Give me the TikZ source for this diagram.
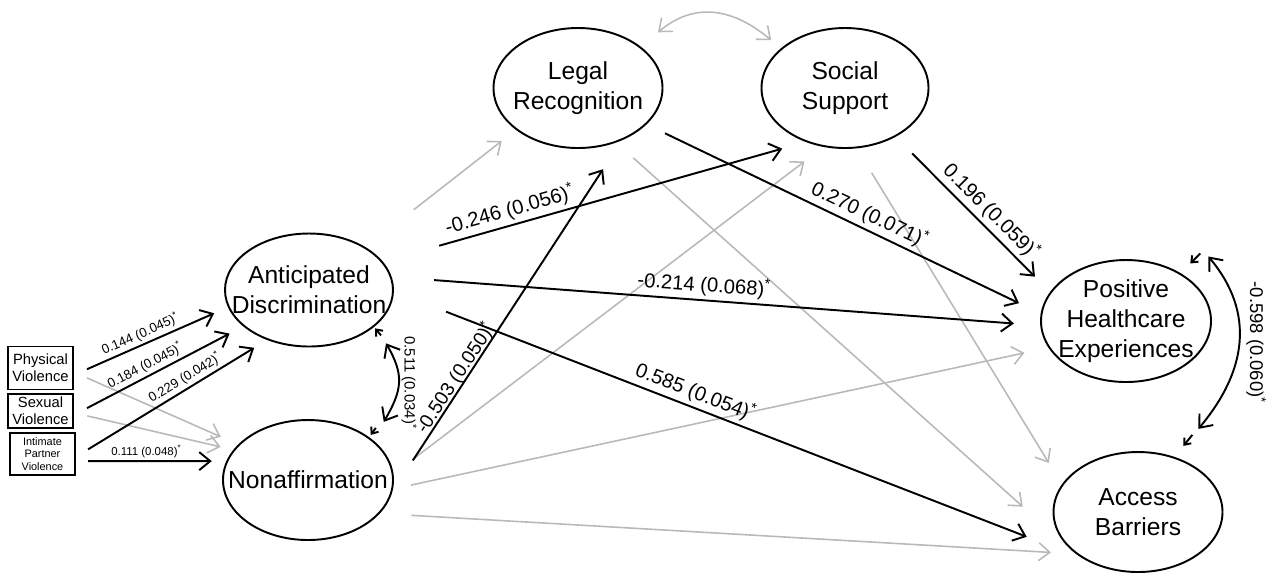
\documentclass[tikz,border=0pt]{standalone}
\usepackage{fontspec}
\setmainfont{Liberation Sans}
\usepackage{tikz}
\usetikzlibrary{arrows.meta,shapes.geometric}
\definecolor{nsgray}{RGB}{185,185,185}
\newcommand{\arw}{-{Straight Barb[length=2.2mm,width=3.6mm]}}
\newcommand{\darw}{{Straight Barb[length=2.2mm,width=3.6mm]}-{Straight Barb[length=2.2mm,width=3.6mm]}}
\newcommand{\tip}{-{Straight Barb[length=1.1mm,width=1.8mm]}}

\begin{document}
\begin{tikzpicture}[x=.2mm,y=.2mm,
  latent/.style={draw,ellipse,line width=1.1pt,minimum width=34mm,minimum height=24mm,inner sep=0pt},
  ltxt/.style={align=center,font=\fontsize{14}{17}\selectfont},
  obs/.style={draw,line width=.8pt,minimum width=13mm,inner sep=1pt,align=center},
  sig/.style={line width=1.1pt},
  nsig/.style={draw=nsgray,line width=.9pt},
  lbl/.style={font=\fontsize{11.5}{13}\selectfont,inner sep=2pt},
  slbl/.style={font=\fontsize{7.5}{8}\selectfont,inner sep=1.5pt}]
\useasboundingbox (0,0) rectangle (1268,-573);
%latent variables
\node[latent,minimum width=33.8mm,label={[ltxt]center:Legal\\Recognition}] (legal) at (578,-88) {};
\node[latent,minimum width=33.4mm,label={[ltxt]center:Social\\Support}] (social) at (845,-88) {};
\node[latent,minimum width=33.6mm,minimum height=22.6mm,label={[ltxt]center:Anticipated\\Discrimination}] (antic) at (309,-290) {};
\node[latent,label={[ltxt]center:Nonaffirmation}] (nonaff) at (308,-480) {};
\node[latent,minimum height=24.4mm,label={[ltxt]center:Positive\\Healthcare\\Experiences}] (phe) at (1126,-321) {};
\node[latent,minimum width=33.8mm,label={[ltxt]center:Access\\Barriers}] (ab) at (1138,-512) {};
%observed
\node[obs,minimum height=8.6mm,font=\fontsize{8.4}{9.5}\selectfont] (phys) at (40.5,-368) {Physical\\Violence};
\node[obs,minimum height=6.8mm,font=\fontsize{8.4}{9.5}\selectfont] (sex) at (40.5,-411) {Sexual\\Violence};
\node[obs,minimum height=8.4mm,font=\fontsize{6.2}{7.2}\selectfont] (ipv) at (42.5,-454) {Intimate\\Partner\\Violence};

%non-significant paths
\draw[nsig,\arw,shorten <=2.9mm,shorten >=3.8mm] (phys.-7) -- (nonaff.153);
\draw[nsig,\arw,shorten <=2.8mm,shorten >=2.6mm] (sex.-3) -- (nonaff.158);
\draw[nsig,\arw,shorten <=12.2mm,shorten >=3.6mm] (antic.37) -- (legal.214);
\draw[nsig,\arw,shorten <=4.9mm,shorten >=4.8mm] (nonaff.4) -- (social.250);
\draw[nsig,\arw,shorten <=3.7mm,shorten >=4.9mm] (nonaff.-6) -- (phe.199);
\draw[nsig,\arw,shorten <=6.3mm,shorten >=5mm] (nonaff.-25) -- (ab.214);
\draw[nsig,\arw,shorten <=4.6mm,shorten >=13.1mm] (legal.-55) -- (ab.210);
\draw[nsig,\arw,shorten <=5.7mm,shorten >=5mm] (social.-79) -- (ab.160);
\draw[nsig,\darw] ([shift={(19,13)}]legal.35) to[out=40,in=140,looseness=1.1] ([shift={(-11,7)}]social.147);

%significant paths
\draw[sig,\arw,shorten <=2.9mm,shorten >=3mm] (phys.-12) -- node[slbl,sloped,above,pos=.46] {0.144 (0.045)\textsuperscript{*}} (antic.192);
\draw[sig,\arw,shorten <=3mm,shorten >=3.1mm] (sex.-7) -- node[slbl,sloped,above,pos=.45] {0.184 (0.045)\textsuperscript{*}} (antic.209);
\draw[sig,\arw,shorten <=2.9mm,shorten >=3mm] (ipv.-5) -- node[slbl,sloped,above,pos=.6] {0.229 (0.042)\textsuperscript{*}} (antic.230);
\draw[sig,\arw,shorten <=2.5mm,shorten >=2.9mm] (ipv.-12) -- node[slbl,sloped,above,pos=.47,font=\fontsize{6.5}{7}\selectfont] {0.111 (0.048)\textsuperscript{*}} (nonaff.167);
\draw[sig,\arw,shorten <=11.7mm,shorten >=4.9mm] (antic.21) -- node[lbl,sloped,above,pos=.31] {-0.246 (0.056)\textsuperscript{*}} (social.234);
\draw[sig,\arw,shorten <=8.5mm,shorten >=5.3mm] (antic.9) -- node[lbl,sloped,above,pos=.48] {-0.214 (0.068)\textsuperscript{*}} (phe.183);
\draw[sig,\arw,shorten <=11.2mm,shorten >=12mm] (antic.-1) -- node[lbl,sloped,above,pos=.43] {0.585 (0.054)\textsuperscript{*}} (ab.220);
\draw[sig,\arw,shorten <=7.5mm,shorten >=6.9mm] (nonaff.-8) -- node[lbl,sloped,above=-3pt,pos=.31,font=\fontsize{11}{12}\selectfont] {-0.503 (0.050)\textsuperscript{*}} (legal.-50);
\draw[sig,\arw,shorten <=4.1mm,shorten >=4.8mm] (legal.-28) -- node[lbl,sloped,above,pos=.55] {0.270 (0.071)\textsuperscript{*}} (phe.175);
\draw[sig,\arw,shorten <=4.7mm,shorten >=4.3mm] (social.-44) -- node[lbl,sloped,above,pos=.55] {0.196 (0.059)\textsuperscript{*}} (phe.159);

%covariances
\draw[sig,\darw] ([shift={(18,-12)}]antic.-35) to[out=-60,in=60,looseness=1.2]
  node[midway,rotate=-90,anchor=south,inner sep=1pt,font=\fontsize{8.5}{9}\selectfont] {0.511 (0.034)\textsuperscript{*}} ([shift={(18,13)}]nonaff.38);
\draw[sig,\tip] ([shift={(13,-4)}]antic.-35) -- ([shift={(7,3)}]antic.-35);
\draw[sig,\tip] ([shift={(10,7)}]nonaff.38) -- ([shift={(5,0)}]nonaff.38);
\draw[sig,\darw] ([shift={(24,19)}]phe.38) to[out=-50,in=50,looseness=1.1]
  node[midway,rotate=-90,anchor=south,inner sep=3.5pt,font=\fontsize{10.5}{11}\selectfont] {-0.598 (0.060)\textsuperscript{*}} ([shift={(21,29)}]ab.54);
\draw[sig,\tip] ([shift={(16,22)}]phe.38) -- ([shift={(6,12)}]phe.38);
\draw[sig,\tip] ([shift={(15,23)}]ab.54) -- ([shift={(6,12)}]ab.54);
\end{tikzpicture}
\end{document}
